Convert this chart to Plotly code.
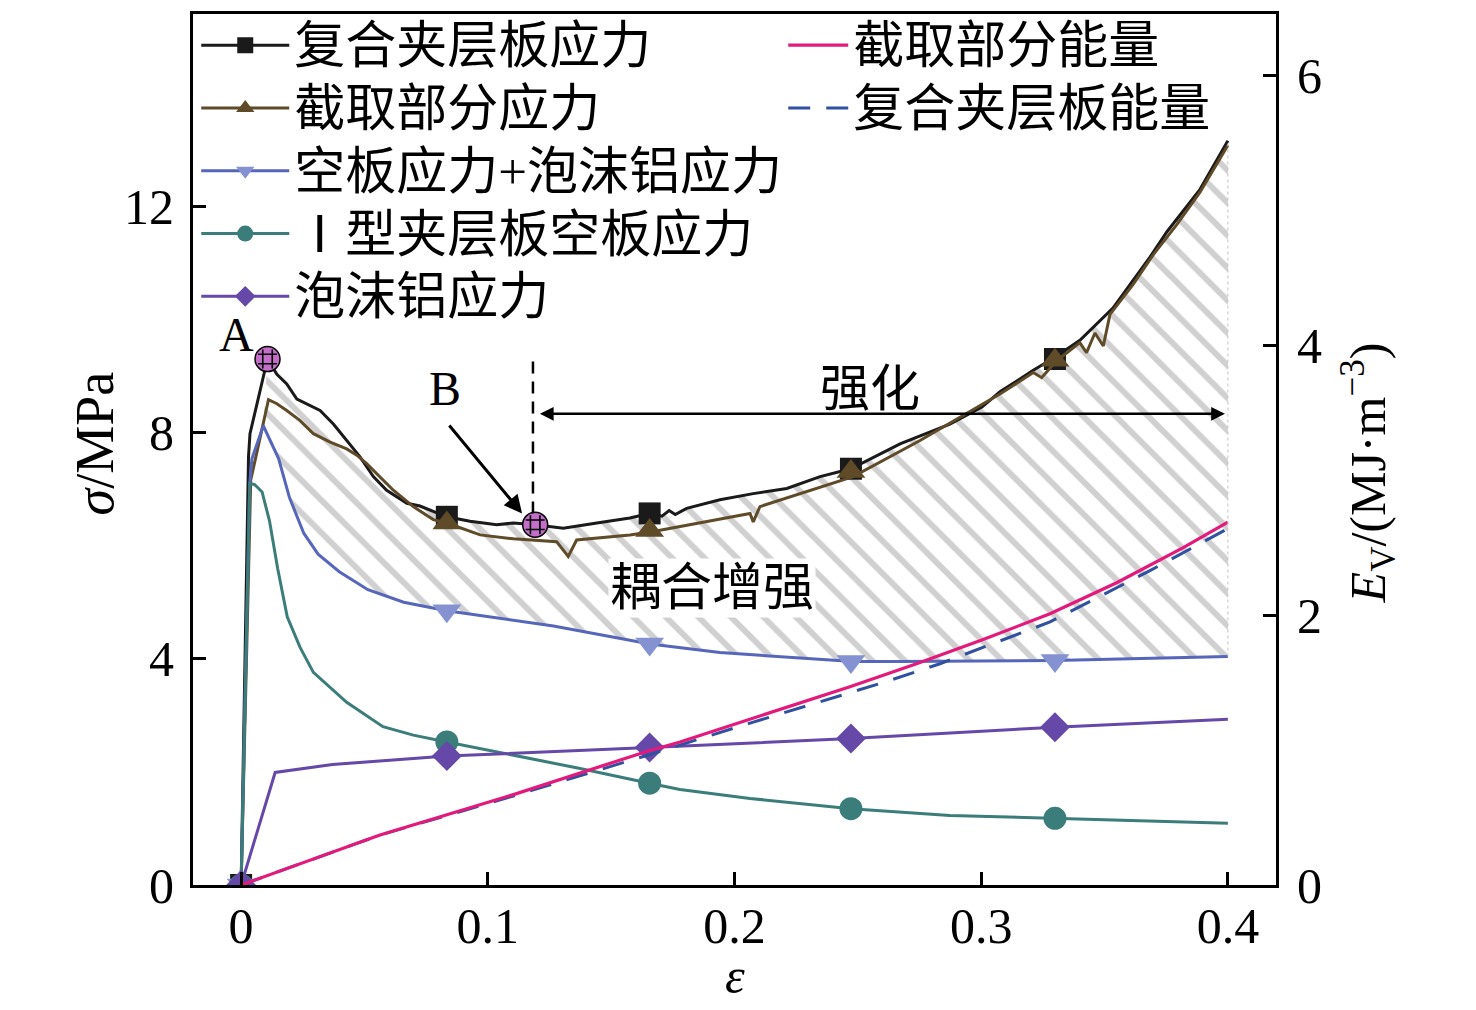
import plotly.graph_objects as go

# ---------------- data ----------------
black_x = [0, 0.003, 0.0036, 0.0097, 0.0107, 0.0145, 0.0185, 0.0226, 0.0266, 0.032, 0.0374, 0.0428,
           0.0482, 0.0536, 0.059, 0.0672, 0.0725, 0.0834, 0.0928, 0.1036, 0.1104, 0.1192, 0.1306,
           0.1442, 0.1576, 0.1658, 0.1706, 0.1735, 0.176, 0.1806, 0.1941, 0.2076, 0.2212, 0.2347,
           0.2472, 0.2671, 0.2873, 0.3003, 0.3076, 0.3211, 0.3299, 0.34, 0.3534, 0.3684, 0.3753,
           0.3887, 0.4]
black_y = [0, 7.57, 7.98, 9.15, 9.30, 9.03, 8.86, 8.59, 8.51, 8.39, 8.15, 7.86,
           7.57, 7.22, 6.98, 6.75, 6.70, 6.51, 6.43, 6.37, 6.40, 6.37, 6.31,
           6.40, 6.49, 6.57, 6.52, 6.62, 6.55, 6.66, 6.81, 6.92, 7.01, 7.22,
           7.36, 7.80, 8.15, 8.45, 8.72, 9.10, 9.33, 9.63, 10.2, 11.1, 11.55,
           12.3, 13.16]

brown_x = [0, 0.0039, 0.0111, 0.0145, 0.0185, 0.0239, 0.0293, 0.0361, 0.0428, 0.0469, 0.0509,
           0.0563, 0.0617, 0.0698, 0.0779, 0.0834, 0.0969, 0.1104, 0.1279, 0.1326, 0.136, 0.1576,
           0.1671, 0.2063, 0.2076, 0.2103, 0.2481, 0.2752, 0.2941, 0.3076, 0.3211, 0.3245, 0.3306,
           0.34, 0.3427, 0.3461, 0.3495, 0.3522, 0.3616, 0.3697, 0.3792, 0.3887, 0.4]
brown_y = [0, 7.16, 8.58, 8.51, 8.39, 8.21, 7.98, 7.83, 7.71, 7.60, 7.45,
           7.22, 6.98, 6.69, 6.46, 6.40, 6.19, 6.12, 6.07, 5.81, 6.10, 6.19,
           6.25, 6.57, 6.42, 6.69, 7.22, 7.86, 8.33, 8.68, 9.06, 8.97, 9.27,
           9.59, 9.41, 9.76, 9.53, 10.09, 10.62, 11.14, 11.67, 12.25, 13.08]

blue_x = [0, 0.0035, 0.0044, 0.009, 0.0152, 0.0196, 0.0254, 0.0312, 0.0398, 0.0514, 0.0659,
          0.0834, 0.1266, 0.1658, 0.1941, 0.248, 0.2671, 0.3299, 0.4]
blue_y = [0, 7.1, 7.54, 8.12, 7.54, 6.85, 6.22, 5.85, 5.54, 5.22, 5.0,
          4.85, 4.58, 4.26, 4.11, 3.95, 3.95, 3.97, 4.04]

teal_x = [0, 0.0035, 0.0055, 0.0085, 0.0115, 0.0148, 0.0187, 0.0239, 0.0293, 0.0428, 0.0575,
          0.0698, 0.0834, 0.1102, 0.1374, 0.1655, 0.1779, 0.2063, 0.2472, 0.2873, 0.3299, 0.4]
teal_y = [0, 7.1, 7.08, 6.95, 6.44, 5.6, 4.74, 4.2, 3.76, 3.23, 2.80,
          2.65, 2.53, 2.30, 2.06, 1.80, 1.69, 1.53, 1.35, 1.23, 1.18, 1.09]

purple_x = [0, 0.0138, 0.037, 0.0834, 0.1655, 0.2472, 0.3299, 0.4]
purple_y = [0, 1.99, 2.13, 2.28, 2.43, 2.59, 2.79, 2.93]

pink_x = [0, 0.0563, 0.1104, 0.1644, 0.1779, 0.2468, 0.2738, 0.3008, 0.3279, 0.3549, 0.3819, 0.4]
pink_y = [0, 0.37, 0.67, 0.99, 1.06, 1.47, 1.64, 1.82, 2.01, 2.24, 2.50, 2.69]

dash_x = [0, 0.0563, 0.1104, 0.1644, 0.2063, 0.2602, 0.2833, 0.3279, 0.3684, 0.3988]
dash_y = [0, 0.37, 0.66, 0.96, 1.20, 1.50, 1.64, 1.95, 2.33, 2.63]

mk_x = [0, 0.0834, 0.1656, 0.2472, 0.3299]
black_mk = [0, 6.51, 6.57, 7.36, 9.30]
brown_mk = [0, 6.40, 6.27, 7.31, 9.28]
blue_mk = [0, 4.85, 4.26, 3.95, 3.97]
teal_mk = [0, 2.53, 1.80, 1.35, 1.18]
purple_mk = [0, 2.28, 2.43, 2.59, 2.79]

AB_x = [0.0107, 0.1192]
AB_y = [9.30, 6.37]

names_left = ["复合夹层板应力", "截取部分应力", "空板应力+泡沫铝应力", "Ⅰ型夹层板空板应力", "泡沫铝应力"]
names_right = ["截取部分能量", "复合夹层板能量"]

x_ticks = [0, 0.1, 0.2, 0.3, 0.4]
x_ticktext = ["0", "0.1", "0.2", "0.3", "0.4"]
y_ticks = [0, 4, 8, 12]
y2_ticks = [0, 2, 4, 6]

# ---------------- style ----------------
FONT = "Liberation Serif, Noto Sans CJK SC, serif"
C_BLACK = "#1a1a1a"
C_BROWN = "#5f4b28"
C_BLUE = "#5566bb"
C_BLUE_MK = "#8492d2"
C_TEAL = "#3a7d7a"
C_PURPLE = "#6548a8"
C_PINK = "#e31a7b"
C_DASH = "#3050a0"


def big(s):
    return '<span style="font-size:51px">' + s + '</span>'


fig = go.Figure()

# hatched coupling-enhancement region between composite stress and empty+foam stress
iA = black_x.index(0.0107)
iB = blue_x.index(0.009)
fig.add_trace(go.Scatter(x=blue_x[iB:], y=blue_y[iB:], mode="lines", line=dict(width=0),
                         showlegend=False, hoverinfo="skip"))
fig.add_trace(go.Scatter(x=black_x[iA:], y=black_y[iA:], mode="lines", line=dict(width=0),
                         fill="tonexty", fillcolor="rgba(255,255,255,0)",
                         fillpattern=dict(shape="\\", fgcolor="#a2a2a2", bgcolor="rgba(255,255,255,0)",
                                          size=23, solidity=0.26),
                         showlegend=False, hoverinfo="skip"))
# thin grey closing edge of the hatched region at the last strain value
fig.add_shape(type="line", x0=blue_x[-1], x1=black_x[-1], y0=blue_y[-1], y1=black_y[-1],
              xref="x", yref="y", line=dict(color="#c4c4c4", width=1, dash="dot"))

series = [
    (black_x, black_y, black_mk, C_BLACK, C_BLACK, "square", 22, names_left[0]),
    (brown_x, brown_y, brown_mk, C_BROWN, C_BROWN, "triangle-up", 25, names_left[1]),
    (blue_x, blue_y, blue_mk, C_BLUE, C_BLUE_MK, "triangle-down", 25, names_left[2]),
    (teal_x, teal_y, teal_mk, C_TEAL, C_TEAL, "circle", 23, names_left[3]),
    (purple_x, purple_y, purple_mk, C_PURPLE, C_PURPLE, "diamond", 23, names_left[4]),
]
for i, (xs, ys, mks, lc, mc, sym, ms, nm) in enumerate(series):
    fig.add_trace(go.Scatter(x=xs, y=ys, mode="lines", line=dict(color=lc, width=3),
                             showlegend=False, hoverinfo="skip"))
    fig.add_trace(go.Scatter(x=mk_x, y=mks, mode="markers",
                             marker=dict(symbol=sym, size=ms, color=mc, line=dict(width=0)),
                             showlegend=False, hoverinfo="skip"))
    fig.add_trace(go.Scatter(x=[None], y=[None], mode="lines+markers", name=big(nm),
                             line=dict(color=lc, width=3),
                             marker=dict(symbol=sym, size=ms, color=mc),
                             legend="legend", legendrank=i + 1))

# energy curves (right axis)
fig.add_trace(go.Scatter(x=dash_x, y=dash_y, mode="lines", yaxis="y2", name=big(names_right[1]),
                         line=dict(color=C_DASH, width=3, dash="22px,16px"),
                         legend="legend2", legendrank=2))
fig.add_trace(go.Scatter(x=pink_x, y=pink_y, mode="lines", yaxis="y2", name=big(names_right[0]),
                         line=dict(color=C_PINK, width=3.2),
                         legend="legend2", legendrank=1))

# A / B points
fig.add_trace(go.Scatter(x=AB_x, y=AB_y, mode="markers", showlegend=False, hoverinfo="skip",
                         marker=dict(symbol="circle", size=25, color="#c36ec8",
                                     line=dict(color="black", width=1.5))))
fig.add_trace(go.Scatter(x=AB_x, y=AB_y, mode="markers", showlegend=False, hoverinfo="skip",
                         marker=dict(symbol="hash-open", size=19, color="black",
                                     line=dict(color="black", width=1.6))))

# annotations
ann_font = dict(family=FONT, size=48, color="black")
fig.add_annotation(x=-0.002, y=9.74, text="A", showarrow=False, font=ann_font)
fig.add_annotation(x=0.0827, y=8.77, text="B", showarrow=False, font=ann_font)
fig.add_annotation(x=0.1139, y=6.57, ax=0.0839, ay=8.15, axref="x", ayref="y", xref="x", yref="y",
                   text="", showarrow=True, arrowhead=2, arrowsize=1.2, arrowwidth=3, arrowcolor="black")
fig.add_annotation(x=0.3988, y=8.33, ax=0.1205, ay=8.33, axref="x", ayref="y", xref="x", yref="y",
                   text="", showarrow=True, arrowhead=2, arrowside="end+start", arrowsize=1.1,
                   arrowwidth=2.5, arrowcolor="black")
fig.add_annotation(x=0.2549, y=8.77, text="强化", showarrow=False,
                   font=dict(family=FONT, size=50, color="black"))
fig.add_annotation(x=0.1909, y=5.25, text="耦合增强", showarrow=False, bgcolor="white",
                   font=dict(family=FONT, size=51, color="black"))
fig.add_shape(type="line", x0=0.1183, x1=0.1183, y0=6.57, y1=9.33, xref="x", yref="y",
              line=dict(color="black", width=2.5, dash="12px,8px"))
# axis titles
fig.add_annotation(x=-0.0905, y=0.507, xref="paper", yref="paper", text="<i>σ</i>/MPa",
                   textangle=-90, showarrow=False, xanchor="center", yanchor="middle",
                   font=dict(family=FONT, size=54, color="black"))
fig.add_annotation(x=1.085, y=0.4726, xref="paper", yref="paper",
                   text="<i>E</i><sub>V</sub>/(MJ·m<sup>−3</sup>)",
                   textangle=-90, showarrow=False, xanchor="center", yanchor="middle",
                   font=dict(family=FONT, size=50, color="black"))
fig.add_annotation(x=0.5005, y=-0.105, xref="paper", yref="paper", text="<i>ε</i>",
                   showarrow=False, xanchor="center", yanchor="middle",
                   font=dict(family=FONT, size=50, color="black"))

axis_common = dict(showline=True, linewidth=3, linecolor="black", ticks="inside", tickwidth=3,
                   ticklen=13, tickcolor="black", showgrid=False, zeroline=False, automargin=False,
                   tickfont=dict(family=FONT, size=50, color="black"))

# the page body adds an 8 px offset, so the figure is 8 px smaller and shifted accordingly
fig.update_layout(
    width=1468, height=1003,
    margin=dict(l=185, r=200, t=1, b=126),
    paper_bgcolor="white", plot_bgcolor="white",
    font=dict(family=FONT, color="black"),
    xaxis=dict(range=[-0.0195, 0.4195], tickvals=x_ticks, ticktext=x_ticktext, mirror=True,
               ticklabelstandoff=-5, **axis_common),
    yaxis=dict(range=[0, 15.4], tickvals=y_ticks, ticklabelstandoff=6, **axis_common),
    yaxis2=dict(range=[0, 6.456], tickvals=y2_ticks, overlaying="y", side="right",
                ticklabelstandoff=8, **axis_common),
    legend=dict(x=0.003, y=1.006, xanchor="left", yanchor="top", bgcolor="rgba(0,0,0,0)",
                font=dict(family=FONT, size=46, color="black"), itemwidth=88, traceorder="normal"),
    legend2=dict(x=0.545, y=1.006, xanchor="left", yanchor="top", bgcolor="rgba(0,0,0,0)",
                 font=dict(family=FONT, size=46, color="black"), itemwidth=60, traceorder="normal"),
    showlegend=True,
)

fig.write_html("out.html")
